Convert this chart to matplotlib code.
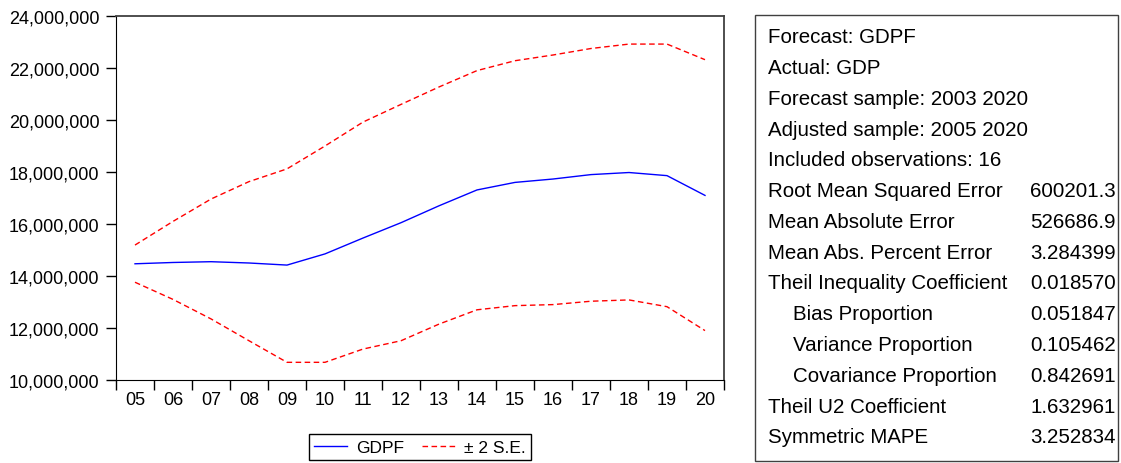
import matplotlib
matplotlib.use("Agg")
import matplotlib.pyplot as plt
from matplotlib.patches import Rectangle
from matplotlib.ticker import FuncFormatter, FixedLocator
import numpy as np

plt.rcParams['font.family'] = ['Liberation Sans', 'DejaVu Sans']

years = ["05", "06", "07", "08", "09", "10", "11", "12", "13", "14", "15", "16", "17", "18", "19", "20"]
gdpf = [14.47e6, 14.52e6, 14.55e6, 14.50e6, 14.42e6, 14.85e6, 15.46e6, 16.05e6, 16.70e6,
        17.31e6, 17.60e6, 17.73e6, 17.90e6, 17.98e6, 17.86e6, 17.10e6]
upper = [15.19e6, 16.10e6, 16.96e6, 17.63e6, 18.12e6, 19.00e6, 19.92e6, 20.60e6, 21.27e6,
         21.90e6, 22.28e6, 22.50e6, 22.75e6, 22.92e6, 22.92e6, 22.32e6]
lower = [13.76e6, 13.10e6, 12.35e6, 11.51e6, 10.68e6, 10.68e6, 11.19e6, 11.51e6, 12.15e6,
         12.70e6, 12.86e6, 12.90e6, 13.03e6, 13.08e6, 12.82e6, 11.90e6]
yticks = [10e6, 12e6, 14e6, 16e6, 18e6, 20e6, 22e6, 24e6]

stat_labels = ["Forecast: GDPF", "Actual: GDP", "Forecast sample: 2003 2020",
               "Adjusted sample: 2005 2020", "Included observations: 16",
               "Root Mean Squared Error", "Mean Absolute Error", "Mean Abs. Percent Error",
               "Theil Inequality Coefficient", "Bias Proportion", "Variance Proportion",
               "Covariance Proportion", "Theil U2 Coefficient", "Symmetric MAPE"]
stat_values = ["", "", "", "", "", "600201.3", "526686.9", "3.284399", "0.018570",
               "0.051847", "0.105462", "0.842691", "1.632961", "3.252834"]
stat_indent = [0, 0, 0, 0, 0, 0, 0, 0, 0, 1, 1, 1, 0, 0]

W, H = 1121, 464
fig = plt.figure(figsize=(W / 100, H / 100), dpi=100)

def fx(px):
    return px / W

def fy(py):
    return 1 - py / H

ax = fig.add_axes([fx(116), fy(381), fx(724) - fx(116), fy(17) - fy(381)])
x = np.arange(len(years))
l1, = ax.plot(x, gdpf, color="#0000ff", lw=1.0)
l2, = ax.plot(x, upper, color="#ff0000", lw=1.0, ls=(0, (4, 2.5)))
ax.plot(x, lower, color="#ff0000", lw=1.0, ls=(0, (4, 2.5)))

ax.set_xlim(-0.5, len(years) - 0.5)
ax.set_ylim(10e6, 24e6)
ax.set_yticks(yticks)
ax.yaxis.set_major_formatter(FuncFormatter(lambda v, p: f"{int(v):,}"))
ax.set_xticks(x)
ax.set_xticklabels(years)
ax.xaxis.set_minor_locator(FixedLocator(np.arange(-0.5, len(years), 1.0)))
ax.tick_params(axis="x", which="major", length=0, pad=8, labelsize=13)
ax.tick_params(axis="x", which="minor", length=7, width=1, direction="out")
ax.tick_params(axis="y", length=7, width=1, direction="out", pad=5, labelsize=13)
for s in ["left", "bottom"]:
    ax.spines[s].set_color("black")
for s in ["top", "right"]:
    ax.spines[s].set_color("#404040")
    ax.spines[s].set_linewidth(1.3)

leg = fig.legend([l1, l2], ["GDPF", "± 2 S.E."], loc="center",
                 bbox_to_anchor=(fx(420), fy(448)), ncol=2, fontsize=12.5,
                 frameon=True, fancybox=False, edgecolor="black", framealpha=1,
                 handlelength=1.9, handletextpad=0.55, columnspacing=1.0,
                 borderpad=0.3, borderaxespad=0)
leg.get_frame().set_linewidth(1.0)

# statistics box
fig.patches.append(Rectangle((fx(755), fy(462)), fx(1118) - fx(755), fy(16) - fy(462),
                             transform=fig.transFigure, fill=False, edgecolor="#404040",
                             lw=1.0))
for i, (lab, val, ind) in enumerate(zip(stat_labels, stat_values, stat_indent)):
    yb = 43.3 + 30.77 * i
    fig.text(fx(768 + 25 * ind), fy(yb), lab, fontsize=14.8, va="baseline", ha="left")
    if val:
        fig.text(fx(1116), fy(yb), val, fontsize=14.8, va="baseline", ha="right")

fig.savefig("out.png", dpi=100)
